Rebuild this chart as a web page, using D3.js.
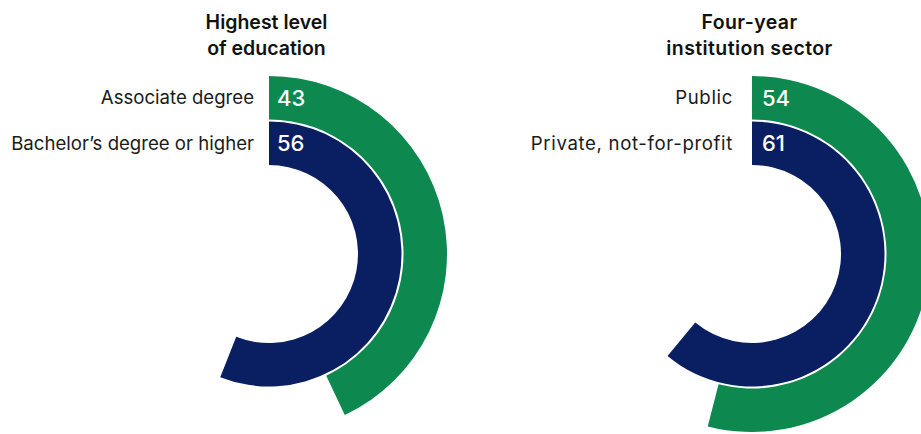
<!DOCTYPE html>
<html>
<head>
<meta charset="utf-8">
<script src="https://cdn.jsdelivr.net/npm/d3@7"></script>
<style>
  html, body { margin: 0; padding: 0; background: #fff; }
  svg { display: block; font-family: Inter, "Noto Sans", sans-serif; }
</style>
</head>
<body>
<svg id="chart" width="921" height="434"></svg>
<script>
// Share of graduates, by highest level of education
const educationCategories = ["Associate degree", "Bachelor’s degree or higher"];
const educationValues = [43, 56];

// Share of graduates, by four-year institution sector
const sectorCategories = ["Public", "Private, not-for-profit"];
const sectorValues = [54, 61];

const panelTitles = [
  ["Highest level", "of education"],
  ["Four-year", "institution sector"]
];

const seriesColors = ["#0d884e", "#0a1f61"];

const panels = [
  { title: panelTitles[0], categories: educationCategories, values: educationValues,
    cx: 269, labelGap: 15, valueGap: 8, labelSpacing: 0, titleSpacing: 0 },
  { title: panelTitles[1], categories: sectorCategories, values: sectorValues,
    cx: 752, labelGap: 19, valueGap: 10, labelSpacing: 0.65, titleSpacing: 0.4 }
];

const svg = d3.select("#chart");
const cy = 254;
const innerR = 89, outerR = 178;

// full turn = 100 percent
const angle = d3.scaleLinear().domain([0, 100]).range([0, 2 * Math.PI]);

panels.forEach(p => {
  const g = svg.append("g").attr("transform", `translate(${p.cx},${cy})`);

  // first category sits on the outer ring
  const radius = d3.scaleBand()
    .domain(p.categories)
    .range([outerR, innerR])
    .paddingInner(0.044);
  const bw = radius.bandwidth();
  const color = d3.scaleOrdinal().domain(p.categories).range(seriesColors);

  const arc = d3.arc()
    .startAngle(0)
    .endAngle((d, i) => angle(p.values[i]))
    .innerRadius(d => radius(d))
    .outerRadius(d => radius(d) + bw);

  g.selectAll("path.bar")
    .data(p.categories)
    .join("path")
    .attr("class", "bar")
    .attr("d", (d, i) => arc(d, i))
    .attr("fill", d => color(d));

  // category names, right-aligned against the ring start
  g.selectAll("text.cat")
    .data(p.categories)
    .join("text")
    .attr("class", "cat")
    .attr("x", -p.labelGap)
    .attr("y", d => -(radius(d) + bw / 2))
    .attr("dy", "0.36em")
    .attr("text-anchor", "end")
    .attr("font-size", 18.6)
    .attr("letter-spacing", p.labelSpacing)
    .attr("fill", "#1a1a1a")
    .text(d => d);

  // values inside the start of each bar
  g.selectAll("text.val")
    .data(p.categories)
    .join("text")
    .attr("class", "val")
    .attr("x", p.valueGap)
    .attr("y", d => -(radius(d) + bw / 2))
    .attr("dy", "0.36em")
    .attr("text-anchor", "start")
    .attr("font-size", 22)
    .attr("font-weight", 500)
    .attr("fill", "#fff")
    .text((d, i) => p.values[i]);

  // panel title
  svg.append("text")
    .attr("text-anchor", "middle")
    .attr("font-size", 19.5)
    .attr("font-weight", 600)
    .attr("letter-spacing", p.titleSpacing)
    .attr("fill", "#111")
    .selectAll("tspan")
    .data(p.title)
    .join("tspan")
    .attr("x", p.cx - 2.5)
    .attr("y", (d, i) => 29 + i * 26)
    .text(d => d);
});
</script>
</body>
</html>
